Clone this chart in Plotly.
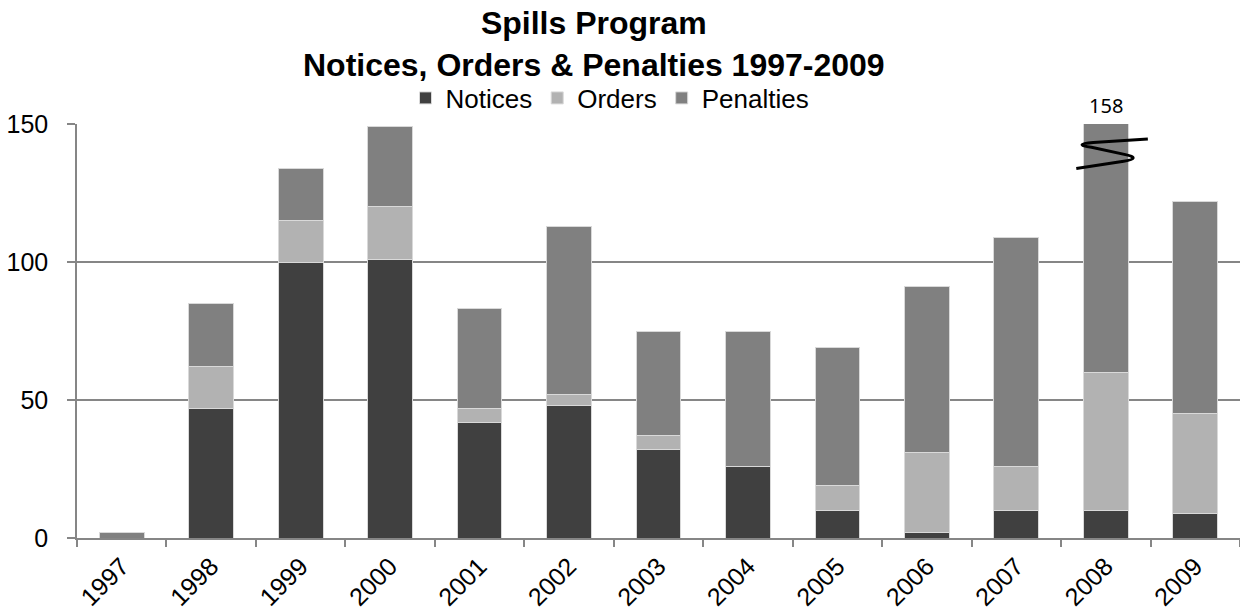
import plotly.graph_objects as go

# Spills program enforcement actions per year
years = ["1997", "1998", "1999", "2000", "2001", "2002", "2003",
         "2004", "2005", "2006", "2007", "2008", "2009"]
notices = [0, 47, 100, 101, 42, 48, 32, 26, 10, 2, 10, 10, 9]
orders = [0, 15, 15, 19, 5, 4, 5, 0, 9, 29, 16, 50, 36]
penalties = [2, 23, 19, 29, 36, 61, 38, 49, 50, 60, 83, 98, 77]

series = [
    ("Notices", notices, "#404040"),
    ("Orders", orders, "#b2b2b2"),
    ("Penalties", penalties, "#808080"),
]

AXIS_GREY = "#868686"
Y_MAX = 150
W, H = 1240, 612
M_L, M_R, M_T, M_B = 77, 0, 124, 74
PLOT_H = H - M_T - M_B

fig = go.Figure()
for name, values, colour in series:
    fig.add_trace(go.Bar(
        x=years, y=values, name=name,
        marker=dict(color=colour, line=dict(color="#d9d9d9", width=1)),
    ))

# Year totals; the tallest one runs past the axis and gets a label + break mark
totals = [n + o + p for n, o, p in zip(notices, orders, penalties)]
for i, total in enumerate(totals):
    if total > Y_MAX:
        fig.add_annotation(
            x=i, y=Y_MAX, xref="x", yref="y", text=str(total),
            showarrow=False, yanchor="bottom", yshift=3,
            font=dict(family="Noto Sans, Arial", size=20, color="#000000"),
        )
        # hand-drawn style break squiggle across the clipped bar
        pts = [(-0.33, 133.9), (0.20, 136.5), (0.40, 137.6), (0.22, 138.9),
               (-0.16, 141.6), (-0.38, 142.6), (-0.14, 143.3), (0.47, 144.6)]
        p = [(i + dx, y) for dx, y in pts]
        path = (f"M {p[0][0]},{p[0][1]} L {p[1][0]},{p[1][1]} "
                f"Q {p[2][0]},{p[2][1]} {p[3][0]},{p[3][1]} "
                f"L {p[4][0]},{p[4][1]} "
                f"Q {p[5][0]},{p[5][1]} {p[6][0]},{p[6][1]} "
                f"L {p[7][0]},{p[7][1]}")
        fig.add_shape(type="path", path=path, xref="x", yref="y",
                      line=dict(color="#000000", width=3))

# Two-line bold heading above the legend
fig.add_annotation(
    text="<b>Spills Program<br>Notices, Orders & Penalties 1997-2009</b>",
    xref="paper", yref="paper",
    x=(594 - M_L) / (W - M_L - M_R), xanchor="center",
    y=1 + (M_T - 44) / PLOT_H, yanchor="middle",
    showarrow=False,
    font=dict(family="Arial, Liberation Sans, sans-serif", size=32, color="#000000"),
)

fig.update_layout(
    width=W, height=H,
    margin=dict(l=M_L, r=M_R, t=M_T, b=M_B, autoexpand=False),
    paper_bgcolor="#ffffff", plot_bgcolor="#ffffff",
    barmode="stack", bargap=0.5,
    font=dict(family="Arial, Liberation Sans, sans-serif", color="#000000"),
    legend=dict(
        orientation="h", traceorder="normal",
        x=610 / W, xanchor="center", xref="container",
        y=1 - 98 / H, yanchor="middle", yref="container",
        font=dict(size=26, color="#000000"),
        bgcolor="rgba(0,0,0,0)",
    ),
    xaxis=dict(
        type="category", range=[-0.5, 12.5],
        tickson="boundaries", ticks="outside", ticklen=7, tickcolor=AXIS_GREY,
        tickwidth=1.5,
        showline=True, linecolor=AXIS_GREY, linewidth=1.5,
        showgrid=False, tickangle=-45, ticklabelstandoff=2,
        tickfont=dict(size=25, color="#000000"),
    ),
    yaxis=dict(
        range=[0, Y_MAX], tickvals=[0, 50, 100, 150],
        ticks="outside", ticklen=8, tickcolor=AXIS_GREY, tickwidth=1.5,
        showline=True, linecolor=AXIS_GREY, linewidth=1.5,
        showgrid=True, gridcolor=AXIS_GREY, gridwidth=1.5,
        zeroline=False, ticklabelstandoff=14,
        tickfont=dict(size=25, color="#000000"),
    ),
    showlegend=True,
)

fig.write_html("out.html")
